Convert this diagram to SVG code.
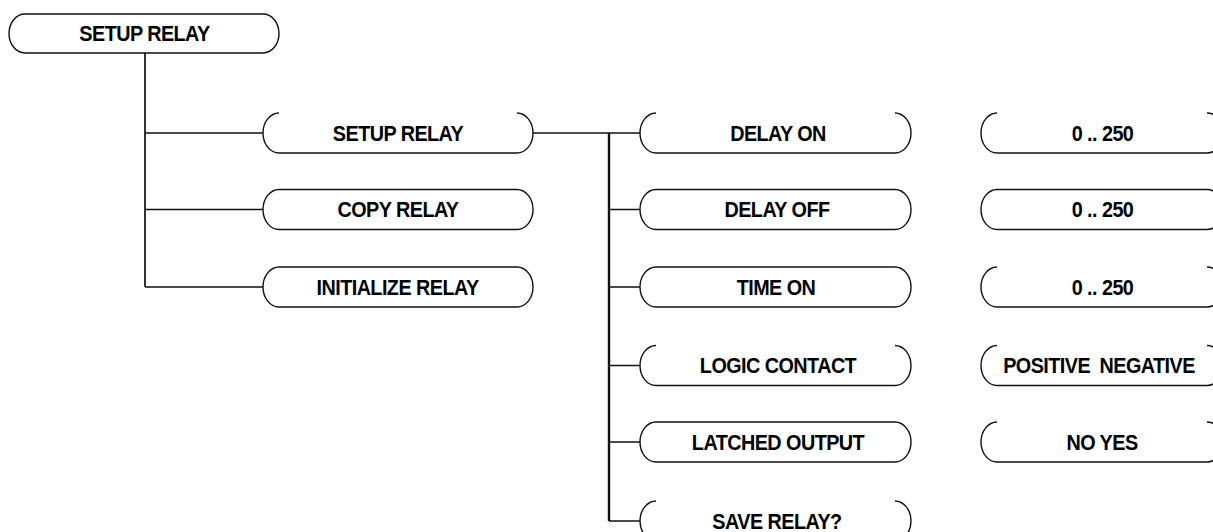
<svg xmlns="http://www.w3.org/2000/svg" width="1213" height="532" viewBox="0 0 1213 532">
<style>
.box{fill:none;stroke:#111;stroke-width:1.4}
.lbl{font-family:"Liberation Sans",Arial,sans-serif;font-weight:bold;font-size:22px;letter-spacing:-0.6px;fill:#000;text-anchor:middle}
.con{fill:none;stroke:#111;stroke-width:1.7}
.bus{fill:none;stroke:#111;stroke-width:2.4}
</style>
<rect width="1213" height="532" fill="#fff"/>
<g id="connectors">
<path class="con" d="M145,53 V287 M145,133 H263 M145,209.5 H263 M145,287 H263"/>
<path class="con" d="M533,133 H640"/>
<path class="bus" d="M609,133 V521"/>
<path class="con" d="M609,209.5 H640 M609,287 H640 M609,365.5 H640 M609,442 H640 M609,521 H640"/>
</g>
<g id="n_setup_root"><rect class="box" x="9" y="14" width="270" height="39" rx="16" ry="19.5"/><text class="lbl" transform="translate(144.5,40.5) scale(0.9,1)">SETUP RELAY</text></g>
<g id="n_setup_relay"><path class="box" d="M279,113 A16,20 0 0 0 279,153 L517,153 A16,20 0 0 0 517,113"/><text class="lbl" transform="translate(398,140.5) scale(0.9,1)">SETUP RELAY</text></g>
<g id="n_copy_relay"><rect class="box" x="263" y="189.5" width="270" height="40" rx="16" ry="20"/><text class="lbl" transform="translate(398,217) scale(0.9,1)">COPY RELAY</text></g>
<g id="n_init_relay"><rect class="box" x="263" y="267" width="270" height="40" rx="16" ry="20"/><text class="lbl" transform="translate(397.5,294.5) scale(0.9,1)">INITIALIZE RELAY</text></g>
<g id="n_delay_on"><path class="box" d="M656,113 A16,20 0 0 0 656,153 L895,153 A16,20 0 0 0 895,113"/><text class="lbl" transform="translate(778,140.5) scale(0.9,1)">DELAY ON</text></g>
<g id="n_delay_off"><rect class="box" x="640" y="189.5" width="271" height="40" rx="16" ry="20"/><text class="lbl" transform="translate(777,217) scale(0.9,1)">DELAY OFF</text></g>
<g id="n_time_on"><rect class="box" x="640" y="267" width="271" height="40" rx="16" ry="20"/><text class="lbl" transform="translate(776,294.5) scale(0.9,1)">TIME ON</text></g>
<g id="n_logic_contact"><path class="box" d="M656,345.5 A16,20 0 0 0 656,385.5 L895,385.5 A16,20 0 0 0 895,345.5"/><text class="lbl" transform="translate(778,373) scale(0.9,1)">LOGIC CONTACT</text></g>
<g id="n_latched_output"><rect class="box" x="640" y="422" width="271" height="40" rx="16" ry="20"/><text class="lbl" transform="translate(778,449.5) scale(0.9,1)">LATCHED OUTPUT</text></g>
<g id="n_save_relay"><path class="box" d="M656,501 A16,20 0 0 0 656,541 L895,541 A16,20 0 0 0 895,501"/><text class="lbl" transform="translate(777,528.5) scale(0.9,1)">SAVE RELAY?</text></g>
<g id="v_delay_on"><path class="box" d="M997,113 A16,20 0 0 0 997,153 L1207,153 A16,20 0 0 0 1207,113"/><text class="lbl" transform="translate(1102.5,140.5) scale(0.9,1)">0 .. 250</text></g>
<g id="v_delay_off"><rect class="box" x="981" y="189.5" width="242" height="40" rx="16" ry="20"/><text class="lbl" transform="translate(1102.5,217) scale(0.9,1)">0 .. 250</text></g>
<g id="v_time_on"><path class="box" d="M997,267 A16,20 0 0 0 997,307 L1207,307 A16,20 0 0 0 1207,267"/><text class="lbl" transform="translate(1102.5,294.5) scale(0.9,1)">0 .. 250</text></g>
<g id="v_logic_contact"><path class="box" d="M997,345.5 A16,20 0 0 0 997,385.5 L1207,385.5 A16,20 0 0 0 1207,345.5"/><text class="lbl" transform="translate(1099,373) scale(0.9,1)" word-spacing="5">POSITIVE NEGATIVE</text></g>
<g id="v_latched_output"><path class="box" d="M997,422 A16,20 0 0 0 997,462 L1207,462 A16,20 0 0 0 1207,422"/><text class="lbl" transform="translate(1102,449.5) scale(0.9,1)">NO YES</text></g>
</svg>
